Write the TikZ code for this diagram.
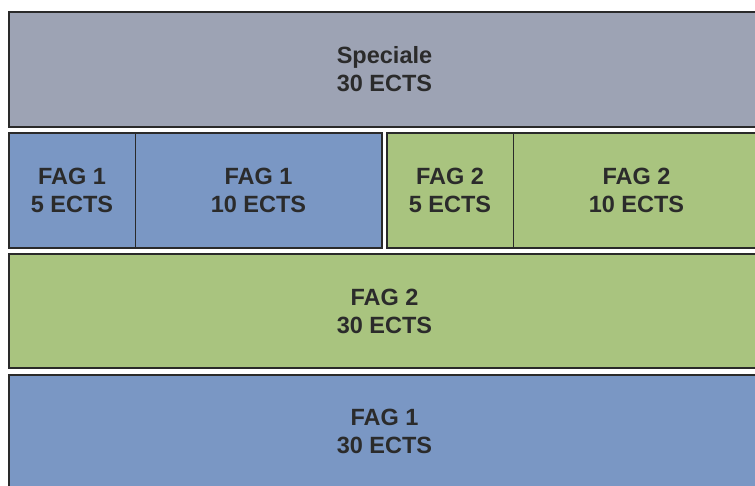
\documentclass[tikz,border=0pt]{standalone}
\usepackage{fontspec}
\setmainfont{Liberation Sans}
\usepackage{tikz}
\usetikzlibrary{positioning}
\definecolor{specgray}{HTML}{9DA3B4}
\definecolor{fagblue}{HTML}{7A97C4}
\definecolor{faggreen}{HTML}{A9C47F}
\definecolor{edgegray}{HTML}{2A2A2A}
\definecolor{textgray}{HTML}{2B2B2B}

\begin{document}
\begin{tikzpicture}[x=1pt, y=-1pt,
    blok/.style={draw=edgegray, line width=2.6pt},
    skille/.style={draw=edgegray, line width=1pt},
    etiket/.style={align=center, text=textgray,
        font=\bfseries\fontsize{23.5}{28}\selectfont}]
    \useasboundingbox (0,0) rectangle (755,485);
    \clip (0,0) rectangle (755,485);

    % Speciale
    \draw[blok, fill=specgray] (9,12) rectangle (760,127);
    \node[etiket] (spec) at (384.5,69.5) {Speciale\\30 ECTS};

    % FAG 1 split
    \draw[blok, fill=fagblue] (9,133) rectangle (382,248);
    \draw[skille] (135,133) -- (135,248);
    \node[etiket] (fag1a) at (72,190.5) {FAG 1\\5 ECTS};
    \node[etiket] (fag1b) at (258.5,190.5) {FAG 1\\10 ECTS};

    % FAG 2 split
    \draw[blok, fill=faggreen] (387,133) rectangle (760,248);
    \draw[skille] (513,133) -- (513,248);
    \node[etiket] (fag2a) at (450,190.5) {FAG 2\\5 ECTS};
    \node[etiket] (fag2b) at (636.5,190.5) {FAG 2\\10 ECTS};

    % FAG 2 full
    \draw[blok, fill=faggreen] (9,254) rectangle (760,368);
    \node[etiket] (fag2) at (384.5,311) {FAG 2\\30 ECTS};

    % FAG 1 full
    \draw[blok, fill=fagblue] (9,375) rectangle (760,490);
    \node[etiket] (fag1) at (384.5,431) {FAG 1\\30 ECTS};
\end{tikzpicture}
\end{document}
